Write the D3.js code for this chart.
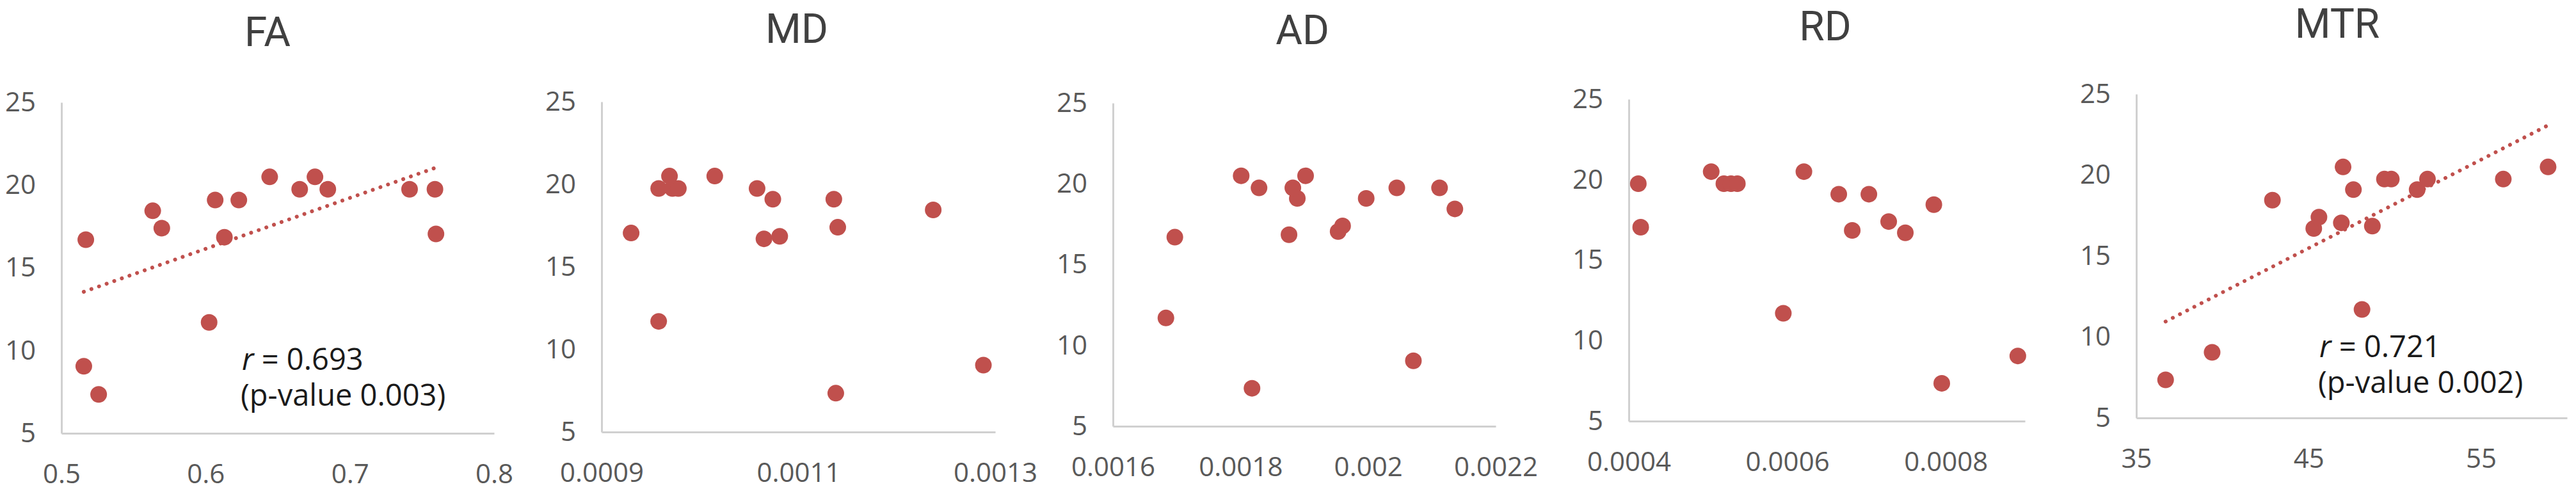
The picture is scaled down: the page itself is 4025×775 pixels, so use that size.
<!DOCTYPE html>
<html>
<head>
<meta charset="utf-8">
<script src="https://cdn.jsdelivr.net/npm/d3@7"></script>
<style>
  html, body { margin: 0; padding: 0; background: #fff; }
  svg { display: block; font-family: "Open Sans", "Noto Sans", sans-serif; }
</style>
</head>
<body>
<script>
// clinical score, one value per subject (shared y of every panel)
const score = [7.35, 9.05, 11.7, 16.7, 16.85, 17.05, 17.4, 18.45, 19.1, 19.1, 19.75, 19.75, 19.75, 19.75, 20.5, 20.5]

// imaging metrics, same subject order as score
const faVals  = [0.5258, 0.5155, 0.6024, 0.5169, 0.613, 0.7597, 0.5696, 0.5633, 0.6066, 0.623, 0.6652, 0.6847, 0.7414, 0.759, 0.6444, 0.6758]
const mdVals  = [0.001138, 0.001288, 0.000958, 0.001065, 0.001081, 0.00093, 0.00114, 0.001237, 0.001074, 0.001136, 0.000958, 0.000972, 0.000978, 0.001058, 0.000969, 0.001015]
const adVals  = [0.001818, 0.002071, 0.001683, 0.001697, 0.001876, 0.001953, 0.00196, 0.002136, 0.001889, 0.001997, 0.001829, 0.001882, 0.002045, 0.002112, 0.001801, 0.001902]
const rdVals  = [0.000795, 0.000891, 0.000595, 0.000749, 0.000682, 0.000415, 0.000728, 0.000785, 0.000665, 0.000703, 0.000412, 0.00052, 0.000529, 0.000537, 0.000504, 0.000621]
const mtrVals = [36.7, 39.4, 48.1, 45.3, 48.7, 46.9, 45.6, 42.9, 47.6, 51.3, 49.4, 49.8, 51.9, 56.3, 47.0, 58.9]

const titles = ["FA", "MD", "AD", "RD", "MTR"]
const xDomains = [[0.5, 0.8], [0.0009, 0.0013], [0.0016, 0.0022], [0.0004, 0.0009], [35, 60]]
const xTicks = [
	[0.5, 0.6, 0.7, 0.8],
	[0.0009, 0.0011, 0.0013],
	[0.0016, 0.0018, 0.002, 0.0022],
	[0.0004, 0.0006, 0.0008],
	[35, 45, 55]
]
const yDomain = [5, 25]
const yTicks = [5, 10, 15, 20, 25]
// correlation notes, only for the significant panels
const notes = [
	{r: "0.693", p: "0.003"}, null, null, null,
	{r: "0.721", p: "0.002"}
]
const showTrend = [true, false, false, false, true]

const series = [faVals, mdVals, adVals, rdVals, mtrVals]

// where each pasted chart sits on the page
const layout = [
	{left: 96,   right: 772,  top: 160, bottom: 677, titleX: 418,  titleY: 72, noteX: 378,  noteY: 578},
	{left: 940,  right: 1555, top: 159, bottom: 675, titleX: 1245, titleY: 67},
	{left: 1739, right: 2337, top: 161, bottom: 666, titleX: 2035, titleY: 69},
	{left: 2545, right: 3164, top: 155, bottom: 658, titleX: 2852, titleY: 63},
	{left: 3338, right: 4011, top: 147, bottom: 653, titleX: 3652, titleY: 59, noteX: 3624, noteY: 558}
]

const width = 4025, height = 775
const red = "#c0504d", tickColor = "#595959", axisColor = "#d0d0d0"

const svg = d3.select("body").append("svg")
	.attr("width", width)
	.attr("height", height)

titles.forEach((t, i) => {
	const L = layout[i]
	const xs = series[i]
	const pts = xs.map((x, j) => ({x: x, y: score[j]}))

	const x = d3.scaleLinear().domain(xDomains[i]).range([L.left, L.right])
	const y = d3.scaleLinear().domain(yDomain).range([L.bottom, L.top])

	const g = svg.append("g").attr("class", "panel")

	// title
	g.append("text")
		.attr("x", L.titleX)
		.attr("y", L.titleY)
		.attr("text-anchor", "middle")
		.attr("fill", "#404040")
		.style("font-family", "Roboto, 'Open Sans', sans-serif")
		.style("font-size", "64px")
		.text(t)

	// y axis
	const ya = g.append("g")
		.attr("transform", `translate(${L.left},0)`)
		.call(d3.axisLeft(y).tickValues(yTicks).tickSize(0).tickPadding(40))
	// x axis
	const xa = g.append("g")
		.attr("transform", `translate(0,${L.bottom})`)
		.call(d3.axisBottom(x).tickValues(xTicks[i]).tickSize(0).tickPadding(48).tickFormat(d => String(d)))

	;[ya, xa].forEach(a => {
		a.select(".domain").attr("stroke", axisColor).attr("stroke-width", 3)
		a.selectAll("text")
			.attr("fill", tickColor)
			.style("font-size", "42px")
			.style("font-family", "'Open Sans', 'Noto Sans', sans-serif")
	})

	// linear trend line (least squares over the points)
	if (showTrend[i]) {
		const mx = d3.mean(xs), my = d3.mean(score)
		const sxy = d3.sum(xs, (v, j) => (v - mx) * (score[j] - my))
		const sxx = d3.sum(xs, v => (v - mx) * (v - mx))
		const slope = sxy / sxx, icpt = my - slope * mx
		const ext = d3.extent(xs)
		g.append("line")
			.attr("x1", x(ext[0])).attr("y1", y(icpt + slope * ext[0]))
			.attr("x2", x(ext[1])).attr("y2", y(icpt + slope * ext[1]))
			.attr("stroke", red)
			.attr("stroke-width", 6)
			.attr("stroke-linecap", "round")
			.attr("stroke-dasharray", "0.1 12.5")
	}

	// points
	g.selectAll("circle.dot")
		.data(pts)
		.enter().append("circle")
		.attr("class", "dot")
		.attr("cx", d => x(d.x))
		.attr("cy", d => y(d.y))
		.attr("r", 13)
		.attr("fill", red)

	// r / p-value note
	if (notes[i]) {
		const n = g.append("text")
			.attr("x", L.noteX)
			.attr("y", L.noteY)
			.attr("fill", "#1a1a1a")
			.style("font-size", "47px")
		n.append("tspan").style("font-style", "italic").text("r")
		n.append("tspan").text(" = " + notes[i].r)
		g.append("text")
			.attr("x", L.noteX - 2)
			.attr("y", L.noteY + 56)
			.attr("fill", "#1a1a1a")
			.style("font-size", "47px")
			.text("(p-value " + notes[i].p + ")")
	}
})
</script>
</body>
</html>
